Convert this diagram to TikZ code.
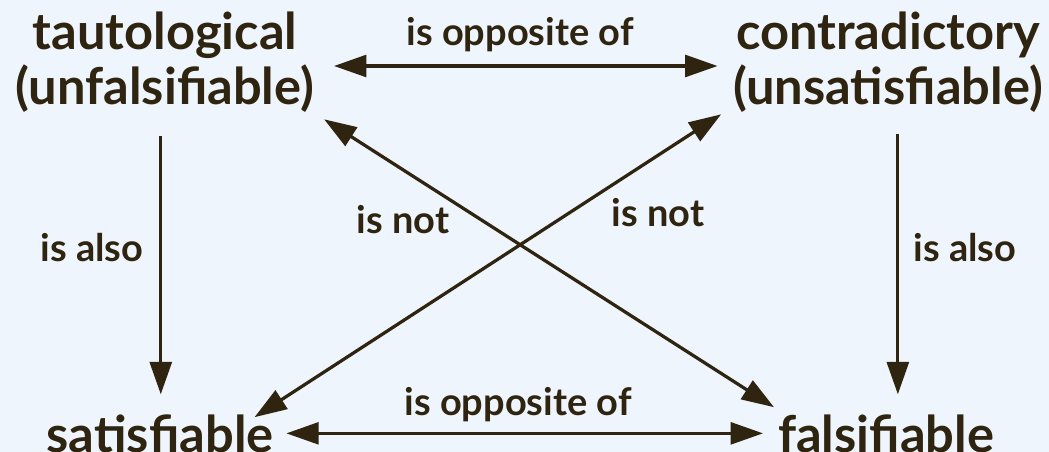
\documentclass[tikz,border=0pt]{standalone}
\usepackage{fontspec}
\setmainfont{Lato}
\usetikzlibrary{arrows.meta}
\definecolor{ink}{HTML}{2E2410}
\definecolor{paper}{HTML}{EFF5FD}
\tikzset{
  term/.style={font=\bfseries\fontsize{36}{39}\selectfont, text=ink, align=center, inner sep=2pt},
  rel/.style={font=\bfseries\fontsize{27}{30}\selectfont, text=ink, inner sep=0pt},
  link/.style={draw=ink, line width=2.3pt, -{Triangle[length=23pt,width=15.5pt]}},
  both/.style={link, {Triangle[length=23pt,width=15.5pt]}-{Triangle[length=23pt,width=15.5pt]}}
}
\begin{document}
\begin{tikzpicture}[x=0.025cm,y=-0.025cm]
\fill[paper] (0,0) rectangle (1049,452);
\useasboundingbox (0,0) rectangle (1049,452);
% the four terms
\node[term] (taut) at (165,62) {tautological\\(unfalsifiable)};
\node[term] (contra) at (888,62) {contradictory\\(unsatisfiable)};
\node[term, anchor=base] (sat) at (160,452) {satisfiable};
\node[term, anchor=base] (fals) at (886,452) {falsifiable};
% relations
\draw[both, shorten <=12pt, shorten >=9pt] (taut.east |- 0,66) -- (contra.west |- 0,66);
\draw[both, shorten <=7pt, shorten >=8.5pt] (sat.east) -- (fals.west);
\draw[link, shorten <=15pt, shorten >=12pt] ([xshift=-3]taut.south) -- ([xshift=-3]taut.south |- sat.north);
\draw[link, shorten <=13.5pt, shorten >=12pt] ([xshift=7]contra.south) -- ([xshift=7]contra.south |- fals.north);
\draw[both] ([shift={(7,4)}]taut.south east) -- ([shift={(-1,-4)}]fals.north west);
\draw[both] ([shift={(-22,6)}]sat.north east) -- ([shift={(-9,-1)}]contra.south west);
% labels
\node[rel] (l1) at (520,35) {is opposite of};
\node[rel] (l2) at (518,405) {is opposite of};
\node[rel] (l3) at (92,248) {is also};
\node[rel] (l4) at (965,248) {is also};
\node[rel] (l5) at (403,220) {is not};
\node[rel] (l6) at (658,213) {is not};
\end{tikzpicture}
\end{document}
